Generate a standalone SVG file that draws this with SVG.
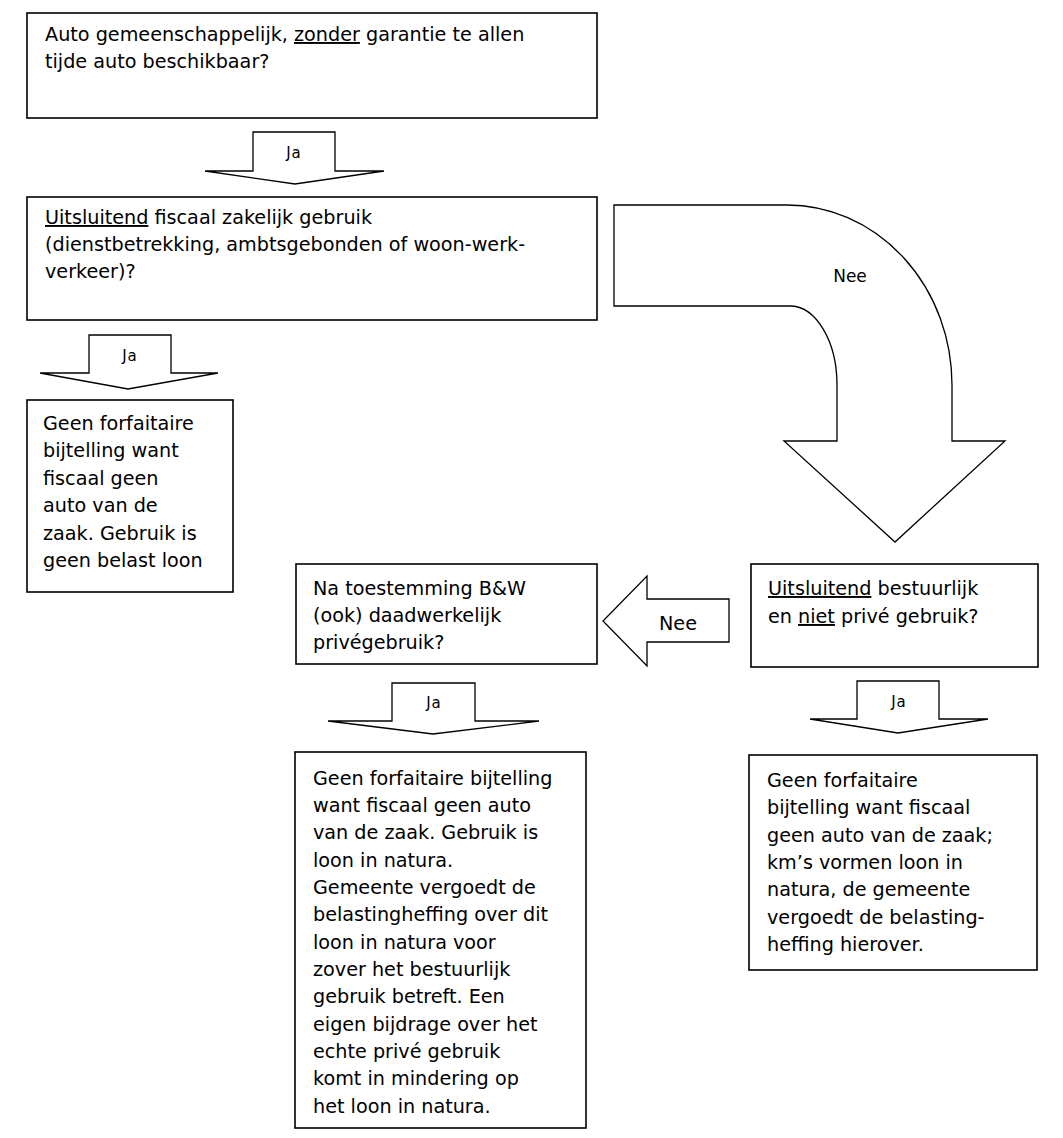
<svg xmlns="http://www.w3.org/2000/svg" width="1063" height="1138" viewBox="0 0 1063 1138">
<style>
.box{fill:#fff;stroke:#000;stroke-width:1.6}
.arr{fill:#fff;stroke:#000;stroke-width:1.3;stroke-linejoin:miter}
text{font-family:"DejaVu Sans",Verdana,sans-serif;fill:#000}
.t{font-size:19.2px}
.ja{font-size:15px;text-anchor:middle;letter-spacing:1px}
.u{text-decoration:underline}
</style>
<rect width="1063" height="1138" fill="#fff"/>
<g id="connectors">
<g id="arrow-ja-1"><polygon class="arr" points="253,132 335,132 335,171 384,171 295,184 205,171 253,171"/><text class="ja" x="294" y="158">Ja</text></g>
<g id="arrow-ja-2"><polygon class="arr" points="89,335 171,335 171,373 218,373 128,389 40,373 89,373"/><text class="ja" x="130" y="361">Ja</text></g>
<g id="arrow-ja-3"><polygon class="arr" points="392,683 475,683 475,721 539,721 433,734 328,721 392,721"/><text class="ja" x="434" y="708">Ja</text></g>
<g id="arrow-ja-4"><polygon class="arr" points="857,681 939,681 939,719 988,719 898,733 810,719 857,719"/><text class="ja" x="899" y="707">Ja</text></g>
<g id="arrow-nee-left"><polygon class="arr" points="729,599 729,642 647,642 647,666 603,621 647,576 647,599"/><text class="t" x="678" y="630" text-anchor="middle">Nee</text></g>
<g id="arrow-nee-curved"><path class="arr" d="M614,205 L787,205 A165,180 0 0 1 952,385 L952,441 L1005,441 L895,542 L784,441 L837,441 L837,385 A47,79 0 0 0 790,306 L614,306 Z"/><text x="850" y="282" font-size="17" text-anchor="middle">Nee</text></g>
</g>
<g id="node-1">
<rect class="box" x="27" y="13" width="570" height="105"/>
<text class="t" x="45" y="41">Auto gemeenschappelijk, <tspan class="u">zonder</tspan> garantie te allen</text>
<text class="t" x="45" y="68">tijde auto beschikbaar?</text>
</g>
<g id="node-2">
<rect class="box" x="27" y="197" width="570" height="123"/>
<text class="t" x="45" y="224"><tspan class="u">Uitsluitend</tspan> fiscaal zakelijk gebruik</text>
<text class="t" x="45" y="251">(dienstbetrekking, ambtsgebonden of woon-werk-</text>
<text class="t" x="45" y="278">verkeer)?</text>
</g>
<g id="node-3">
<rect class="box" x="27" y="400" width="206" height="192"/>
<text class="t" x="43" y="430">Geen forfaitaire</text>
<text class="t" x="43" y="457">bijtelling want</text>
<text class="t" x="43" y="485">fiscaal geen</text>
<text class="t" x="43" y="512">auto van de</text>
<text class="t" x="43" y="540">zaak. Gebruik is</text>
<text class="t" x="43" y="567">geen belast loon</text>
</g>
<g id="node-4">
<rect class="box" x="296" y="564" width="301" height="100"/>
<text class="t" x="313" y="595">Na toestemming B&amp;W</text>
<text class="t" x="313" y="622">(ook) daadwerkelijk</text>
<text class="t" x="313" y="649">privégebruik?</text>
</g>
<g id="node-5">
<rect class="box" x="751" y="564" width="287" height="103"/>
<text class="t" x="768" y="595"><tspan class="u">Uitsluitend</tspan> bestuurlijk</text>
<text class="t" x="768" y="623">en <tspan class="u">niet</tspan> privé gebruik?</text>
</g>
<g id="node-6">
<rect class="box" x="295" y="752" width="291" height="376"/>
<text class="t" x="313" y="785">Geen forfaitaire bijtelling</text>
<text class="t" x="313" y="812">want fiscaal geen auto</text>
<text class="t" x="313" y="839">van de zaak. Gebruik is</text>
<text class="t" x="313" y="867">loon in natura.</text>
<text class="t" x="313" y="894">Gemeente vergoedt de</text>
<text class="t" x="313" y="921">belastingheffing over dit</text>
<text class="t" x="313" y="949">loon in natura voor</text>
<text class="t" x="313" y="976">zover het bestuurlijk</text>
<text class="t" x="313" y="1003">gebruik betreft. Een</text>
<text class="t" x="313" y="1031">eigen bijdrage over het</text>
<text class="t" x="313" y="1058">echte privé gebruik</text>
<text class="t" x="313" y="1085">komt in mindering op</text>
<text class="t" x="313" y="1113">het loon in natura.</text>
</g>
<g id="node-7">
<rect class="box" x="749" y="755" width="288" height="215"/>
<text class="t" x="767" y="787">Geen forfaitaire</text>
<text class="t" x="767" y="814">bijtelling want fiscaal</text>
<text class="t" x="767" y="842">geen auto van de zaak;</text>
<text class="t" x="767" y="869">km’s vormen loon in</text>
<text class="t" x="767" y="896">natura, de gemeente</text>
<text class="t" x="767" y="924">vergoedt de belasting-</text>
<text class="t" x="767" y="951">heffing hierover.</text>
</g>
</svg>
